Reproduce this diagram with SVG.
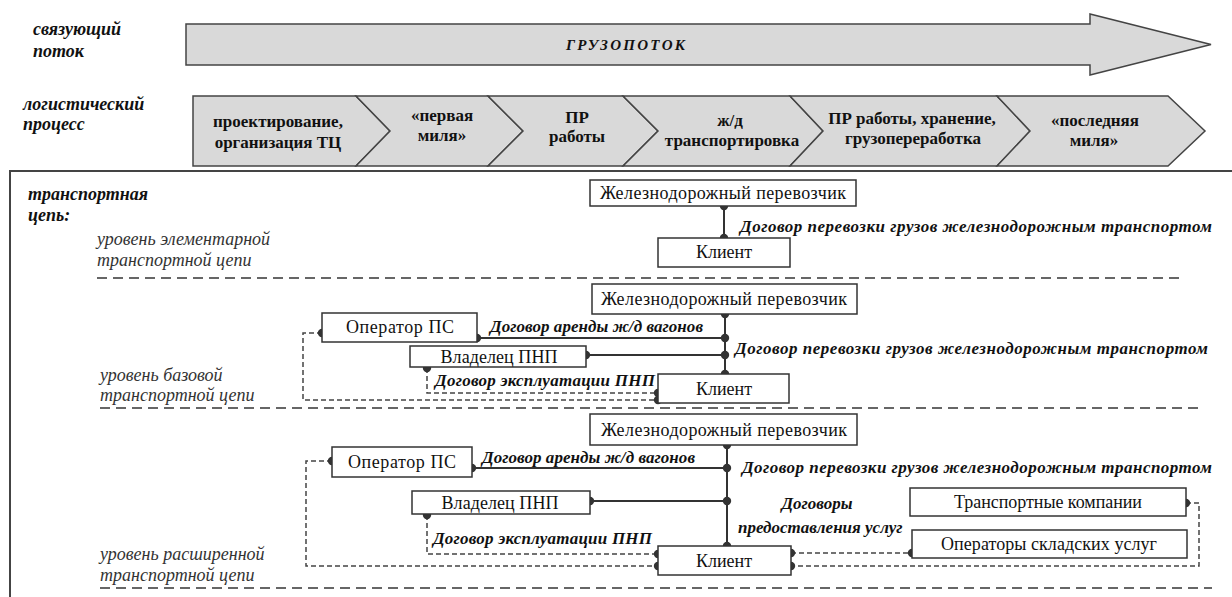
<svg xmlns="http://www.w3.org/2000/svg" width="1232" height="597" viewBox="0 0 1232 597">
<style>
.bg{fill:#ffffff}
.shape{fill:#d9d9d9;stroke:#444;stroke-width:1.5}
.box{fill:#ffffff;stroke:#333;stroke-width:1.5}
.frame{fill:none;stroke:#444;stroke-width:2}
.sep{fill:none;stroke:#666;stroke-width:2;stroke-dasharray:10,6}
.solid{fill:none;stroke:#333;stroke-width:2}
.dash{fill:none;stroke:#444;stroke-width:1.5;stroke-dasharray:5,3}
.dot{fill:#333}
text{font-family:'Liberation Serif','Times New Roman','DejaVu Serif',serif}
.hdr{font-weight:bold;font-style:italic;font-size:18px;fill:#111}
.lvl{font-style:italic;font-size:18px;fill:#333}
.proc{font-weight:bold;font-size:17px;fill:#111;text-anchor:middle}
.nt{font-size:18px;fill:#111;text-anchor:middle}
.lbl{font-weight:bold;font-style:italic;font-size:17px;fill:#111}
.flow{font-weight:bold;font-style:italic;font-size:15px;fill:#111}
</style>
<rect class="bg" x="0" y="0" width="1232" height="597"/>

<g id="headers">
<text class="hdr" x="33" y="35">связующий</text>
<text class="hdr" x="33" y="57">поток</text>
<text class="hdr" x="23" y="110">логистический</text>
<text class="hdr" x="23" y="130">процесс</text>
<text class="hdr" x="28" y="200">транспортная</text>
<text class="hdr" x="28" y="221">цепь:</text>
</g>

<g id="flow-arrow">
<polygon class="shape" points="186,24 1090,24 1090,14 1211,44.5 1090,75 1090,65 186,65"/>
<text class="flow" x="566" y="50" textLength="119">ГРУЗОПОТОК</text>
</g>

<g id="process">
<g id="p1"><polygon class="shape" points="193,96 356,96 390,131 356,166 193,166"/>
<text class="proc" x="278" y="127">проектирование,</text><text class="proc" x="278" y="148">организация ТЦ</text></g>
<g id="p2"><polygon class="shape" points="356,96 488,96 523,131 488,166 356,166 390,131"/>
<text class="proc" x="442" y="121">«первая</text><text class="proc" x="442" y="141">миля»</text></g>
<g id="p3"><polygon class="shape" points="488,96 623,96 658,131 623,166 488,166 523,131"/>
<text class="proc" x="577" y="123">ПР</text><text class="proc" x="577" y="142">работы</text></g>
<g id="p4"><polygon class="shape" points="623,96 790,96 823,131 790,166 623,166 658,131"/>
<text class="proc" x="730" y="126">ж/д</text><text class="proc" x="732" y="146">транспортировка</text></g>
<g id="p5"><polygon class="shape" points="790,96 997,96 1030,131 997,166 790,166 823,131"/>
<text class="proc" x="912" y="124">ПР работы, хранение,</text><text class="proc" x="913" y="144">грузопереработка</text></g>
<g id="p6"><polygon class="shape" points="997,96 1168,96 1205,131 1168,166 997,166 1030,131"/>
<text class="proc" x="1095" y="126">«последняя</text><text class="proc" x="1094" y="146">миля»</text></g>
</g>

<rect class="frame" x="10" y="171" width="1240" height="440"/>

<g id="levels">
<text class="lvl" x="97" y="245">уровень элементарной</text>
<text class="lvl" x="97" y="266">транспортной цепи</text>
<line class="sep" x1="97" y1="278" x2="1180" y2="278"/>
<text class="lvl" x="100" y="381">уровень базовой</text>
<text class="lvl" x="100" y="401">транспортной цепи</text>
<line class="sep" x1="100" y1="408" x2="1200" y2="408"/>
<text class="lvl" x="100" y="560">уровень расширенной</text>
<text class="lvl" x="100" y="581">транспортной цепи</text>
<line class="sep" x1="100" y1="588" x2="1212" y2="588"/>
</g>

<g id="connectors">
<line class="solid" x1="724" y1="206" x2="724" y2="238"/>
<circle class="dot" cx="724" cy="206" r="4.2"/><circle class="dot" cx="724" cy="238" r="4.2"/>
<text class="lbl" x="740" y="232" textLength="472">Договор перевозки грузов железнодорожным транспортом</text>
<line class="solid" x1="725" y1="314" x2="725" y2="374"/>
<line class="solid" x1="477" y1="338" x2="725" y2="338"/>
<line class="solid" x1="586" y1="355" x2="725" y2="355"/>
<path class="dash" d="M322,333 H303 V400 H658"/>
<path class="dash" d="M427,368 V393 H658"/>
<circle class="dot" cx="725" cy="314" r="4.2"/><circle class="dot" cx="725" cy="338" r="4.2"/>
<circle class="dot" cx="725" cy="355" r="4.2"/><circle class="dot" cx="725" cy="374" r="4.2"/>
<circle class="dot" cx="477" cy="338" r="4.2"/><circle class="dot" cx="586" cy="355" r="4.2"/>
<circle class="dot" cx="322" cy="333" r="4.2"/><circle class="dot" cx="427" cy="368" r="4.2"/>
<circle class="dot" cx="658" cy="393" r="4.2"/><circle class="dot" cx="658" cy="400" r="4.2"/>
<text class="lbl" x="490" y="332" textLength="213">Договор аренды ж/д вагонов</text>
<text class="lbl" x="735" y="354" textLength="473">Договор перевозки грузов железнодорожным транспортом</text>
<text class="lbl" x="435" y="386" textLength="220">Договор эксплуатации ПНП</text>
<line class="solid" x1="727" y1="445" x2="727" y2="546"/>
<line class="solid" x1="472" y1="468" x2="727" y2="468"/>
<line class="solid" x1="590" y1="501" x2="727" y2="501"/>
<path class="dash" d="M332,461 H306 V566 H658"/>
<path class="dash" d="M427,515 V554 H658"/>
<path class="dash" d="M791,553 H912"/>
<path class="dash" d="M1186,503 H1199 V566 H791"/>
<circle class="dot" cx="727" cy="445" r="4.2"/><circle class="dot" cx="727" cy="468" r="4.2"/>
<circle class="dot" cx="727" cy="501" r="4.2"/><circle class="dot" cx="727" cy="546" r="4.2"/>
<circle class="dot" cx="472" cy="468" r="4.2"/><circle class="dot" cx="590" cy="501" r="4.2"/>
<circle class="dot" cx="332" cy="461" r="4.2"/><circle class="dot" cx="427" cy="515" r="4.2"/>
<circle class="dot" cx="658" cy="554" r="4.2"/><circle class="dot" cx="658" cy="566" r="4.2"/>
<circle class="dot" cx="791" cy="553" r="4.2"/><circle class="dot" cx="791" cy="566" r="4.2"/>
<circle class="dot" cx="912" cy="553" r="4.2"/><circle class="dot" cx="1186" cy="503" r="4.2"/>
<text class="lbl" x="482" y="463" textLength="213">Договор аренды ж/д вагонов</text>
<text class="lbl" x="742" y="473" textLength="470">Договор перевозки грузов железнодорожным транспортом</text>
<text class="lbl" x="817" y="509" text-anchor="middle">Договоры</text>
<text class="lbl" x="738" y="533">предоставления услуг</text>
<text class="lbl" x="433" y="544" textLength="219">Договор эксплуатации ПНП</text>
</g>

<g id="rail1"><rect class="box" x="590" y="180" width="266" height="26"/><text class="nt" x="723" y="199" textLength="246">Железнодорожный перевозчик</text></g>
<g id="client1"><rect class="box" x="658" y="238" width="132" height="29"/><text class="nt" x="724" y="258">Клиент</text></g>

<g id="rail2"><rect class="box" x="592" y="284" width="265" height="30"/><text class="nt" x="724" y="305" textLength="246">Железнодорожный перевозчик</text></g>
<g id="opps2"><rect class="box" x="322" y="313" width="155" height="29"/><text class="nt" x="400" y="333" textLength="108">Оператор ПС</text></g>
<g id="owner2"><rect class="box" x="410" y="346" width="176" height="21"/><text class="nt" x="499" y="363" textLength="117">Владелец ПНП</text></g>
<g id="client2"><rect class="box" x="658" y="374" width="131" height="29"/><text class="nt" x="724" y="395">Клиент</text></g>

<g id="rail3"><rect class="box" x="590" y="414" width="267" height="31"/><text class="nt" x="724" y="436" textLength="246">Железнодорожный перевозчик</text></g>
<g id="opps3"><rect class="box" x="332" y="447" width="140" height="30"/><text class="nt" x="402" y="468" textLength="108">Оператор ПС</text></g>
<g id="owner3"><rect class="box" x="412" y="491" width="178" height="23"/><text class="nt" x="500" y="509" textLength="117">Владелец ПНП</text></g>
<g id="client3"><rect class="box" x="658" y="546" width="133" height="29"/><text class="nt" x="724" y="567">Клиент</text></g>
<g id="transport"><rect class="box" x="910" y="488" width="276" height="28"/><text class="nt" x="1048" y="508" textLength="188">Транспортные компании</text></g>
<g id="warehouse"><rect class="box" x="912" y="530" width="275" height="28"/><text class="nt" x="1049" y="550" textLength="216">Операторы складских услуг</text></g>
</svg>
